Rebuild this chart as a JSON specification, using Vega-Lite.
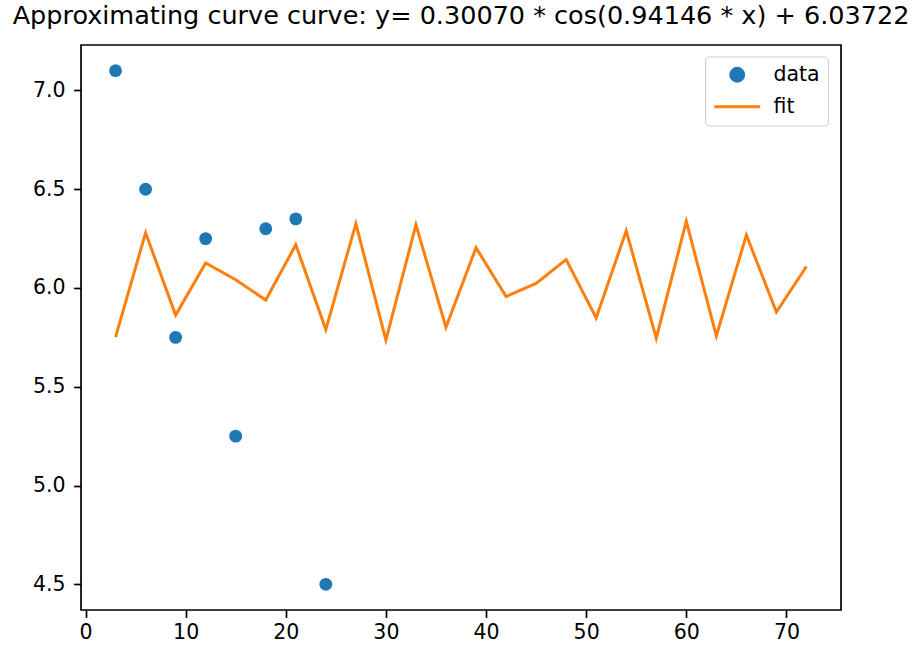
{
  "$schema": "https://vega.github.io/schema/vega-lite/v6.json",
  "width": 760,
  "height": 565,
  "autosize": {"type": "none"},
  "padding": {"left": 81, "top": 45, "right": 72, "bottom": 36},
  "background": "white",
  "title": {
    "text": "Approximating curve curve: y= 0.30070 * cos(0.94146 * x) + 6.03722",
    "font": "DejaVu Sans",
    "fontSize": 25.5,
    "fontWeight": "normal",
    "color": "black",
    "anchor": "middle",
    "frame": "group",
    "baseline": "alphabetic",
    "offset": 16,
    "dy": 20
  },
  "config": {
    "view": {"stroke": "black", "strokeWidth": 1.7},
    "axis": {
      "labelFont": "DejaVu Sans",
      "labelFontSize": 20.5,
      "labelColor": "black",
      "domain": false,
      "grid": false,
      "ticks": true,
      "tickColor": "black",
      "tickSize": 7.4,
      "tickWidth": 1.7,
      "labelPadding": 5,
      "title": null
    },
    "axisY": {"labelPadding": 8.5},
    "legend": {
      "labelFont": "DejaVu Sans",
      "labelFontSize": 20.5,
      "labelColor": "black"
    }
  },
  "data": {
    "values": [
      {"x": 3, "y": 7.1, "series": "data"},
      {"x": 6, "y": 6.5, "series": "data"},
      {"x": 9, "y": 5.75, "series": "data"},
      {"x": 12, "y": 6.25, "series": "data"},
      {"x": 15, "y": 5.25, "series": "data"},
      {"x": 18, "y": 6.3, "series": "data"},
      {"x": 21, "y": 6.35, "series": "data"},
      {"x": 24, "y": 4.5, "series": "data"},
      {"x": 3, "y": 5.7515, "series": "fit"},
      {"x": 6, "y": 6.2794, "series": "fit"},
      {"x": 9, "y": 5.8627, "series": "fit"},
      {"x": 12, "y": 6.1267, "series": "fit"},
      {"x": 15, "y": 6.0418, "series": "fit"},
      {"x": 18, "y": 5.9390, "series": "fit"},
      {"x": 21, "y": 6.2191, "series": "fit"},
      {"x": 24, "y": 5.7897, "series": "fit"},
      {"x": 27, "y": 6.3257, "series": "fit"},
      {"x": 30, "y": 5.7367, "series": "fit"},
      {"x": 33, "y": 6.3199, "series": "fit"},
      {"x": 36, "y": 5.8006, "series": "fit"},
      {"x": 39, "y": 6.2043, "series": "fit"},
      {"x": 42, "y": 5.9565, "series": "fit"},
      {"x": 45, "y": 6.0235, "series": "fit"},
      {"x": 48, "y": 6.1441, "series": "fit"},
      {"x": 51, "y": 5.8481, "series": "fit"},
      {"x": 54, "y": 6.2898, "series": "fit"},
      {"x": 57, "y": 5.7463, "series": "fit"},
      {"x": 60, "y": 6.3374, "series": "fit"},
      {"x": 63, "y": 5.7578, "series": "fit"},
      {"x": 66, "y": 6.2681, "series": "fit"},
      {"x": 69, "y": 5.8781, "series": "fit"},
      {"x": 72, "y": 6.1090, "series": "fit"}
    ]
  },
  "encoding": {
    "x": {
      "field": "x",
      "type": "quantitative",
      "scale": {"domain": [-0.45, 75.45], "nice": false, "zero": false},
      "axis": {"values": [0, 10, 20, 30, 40, 50, 60, 70], "format": "d"}
    },
    "y": {
      "field": "y",
      "type": "quantitative",
      "scale": {"domain": [4.37, 7.23], "nice": false, "zero": false},
      "axis": {"values": [4.5, 5.0, 5.5, 6.0, 6.5, 7.0], "format": ".1f"}
    },
    "color": {
      "field": "series",
      "type": "nominal",
      "scale": {"domain": ["data", "fit"], "range": ["#1f77b4", "#ff7f0e"]},
      "legend": {
        "title": null,
        "orient": "none",
        "legendX": 624,
        "legendY": 11.5,
        "padding": 8,
        "rowPadding": 9,
        "strokeColor": "#cccccc",
        "fillColor": "white",
        "cornerRadius": 4,
        "symbolSize": 2116,
        "symbolOffset": 14,
        "labelOffset": 26,
        "encode": {
          "symbols": {
            "update": {
              "shape": {"signal": "datum.value === 'fit' ? 'stroke' : 'circle'"},
              "size": {"signal": "datum.value === 'fit' ? 2116 : 165"},
              "fill": {"signal": "datum.value === 'fit' ? 'transparent' : '#1f77b4'"},
              "stroke": {"signal": "datum.value === 'fit' ? '#ff7f0e' : 'transparent'"},
              "strokeWidth": {"value": 3},
              "opacity": {"value": 1}
            }
          }
        }
      }
    }
  },
  "layer": [
    {
      "transform": [{"filter": "datum.series === 'fit'"}],
      "mark": {"type": "line", "strokeWidth": 3},
      "encoding": {"order": {"field": "x", "type": "quantitative"}}
    },
    {
      "transform": [{"filter": "datum.series === 'data'"}],
      "mark": {"type": "point", "filled": true, "shape": "circle", "size": 165, "opacity": 1}
    }
  ]
}
